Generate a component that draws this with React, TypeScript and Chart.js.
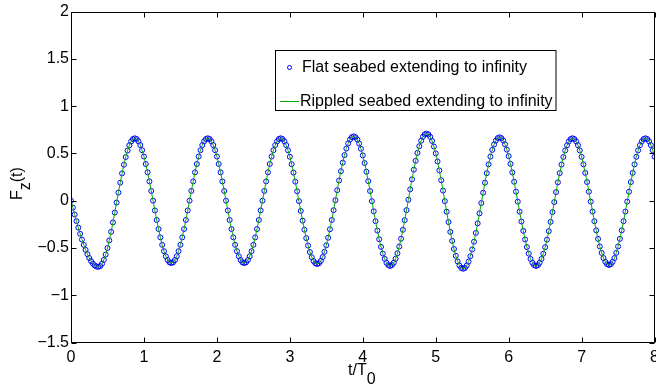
import React, { useEffect, useRef } from "react";
import { Chart, registerables } from "chart.js";

Chart.register(...registerables);

// ---- data ----
const TIME_STEP = 0.025; // t/T0 sampling interval of the markers
const X_TICKS = [0, 1, 2, 3, 4, 5, 6, 7, 8];
const Y_TICKS = [-1.5, -1, -0.5, 0, 0.5, 1, 1.5, 2];
const SERIES_LABELS = [
  "Flat seabed extending to infinity",
  "Rippled seabed extending to infinity",
];

// F_z(t) for the flat seabed, one value per TIME_STEP starting at t = 0
const flatSeabed: number[] = [
  0, -0.073, -0.146, -0.216, -0.285, -0.35, -0.411, -0.468, -0.52, -0.566, -0.606, -0.639, -0.666, -0.685, -0.696, -0.7,
  -0.692, -0.667, -0.626, -0.57, -0.501, -0.42, -0.329, -0.23, -0.126, -0.02, 0.086, 0.19, 0.289, 0.38, 0.461, 0.53, 0.586, 0.627, 0.652, 0.66,
  0.652, 0.628, 0.588, 0.534, 0.467, 0.388, 0.3, 0.204, 0.103, 0, -0.103, -0.204, -0.3, -0.388, -0.467, -0.534, -0.588, -0.628, -0.652, -0.66,
  -0.652, -0.628, -0.588, -0.534, -0.467, -0.388, -0.3, -0.204, -0.103, 0, 0.103, 0.204, 0.3, 0.388, 0.467, 0.534, 0.588, 0.628, 0.652, 0.66,
  0.652, 0.628, 0.588, 0.534, 0.467, 0.388, 0.3, 0.204, 0.103, 0, -0.103, -0.204, -0.3, -0.388, -0.467, -0.534, -0.588, -0.628, -0.652, -0.66,
  -0.652, -0.628, -0.588, -0.534, -0.467, -0.388, -0.3, -0.204, -0.103, 0, 0.103, 0.204, 0.3, 0.388, 0.467, 0.534, 0.588, 0.628, 0.652, 0.66,
  0.652, 0.628, 0.588, 0.533, 0.465, 0.386, 0.297, 0.201, 0.099, -0.005, -0.109, -0.211, -0.307, -0.396, -0.475, -0.543, -0.598, -0.638, -0.662, -0.67,
  -0.662, -0.637, -0.596, -0.541, -0.472, -0.392, -0.302, -0.204, -0.101, 0.005, 0.111, 0.214, 0.312, 0.402, 0.482, 0.551, 0.606, 0.647, 0.672, 0.68,
  0.672, 0.647, 0.605, 0.549, 0.479, 0.398, 0.306, 0.207, 0.102, -0.005, -0.112, -0.217, -0.316, -0.408, -0.489, -0.559, -0.615, -0.657, -0.682, -0.69,
  -0.681, -0.656, -0.614, -0.556, -0.485, -0.402, -0.308, -0.206, -0.1, 0.01, 0.12, 0.226, 0.328, 0.422, 0.505, 0.576, 0.634, 0.676, 0.701, 0.71,
  0.701, 0.675, 0.632, 0.573, 0.501, 0.415, 0.32, 0.216, 0.107, -0.005, -0.117, -0.226, -0.33, -0.425, -0.511, -0.583, -0.642, -0.685, -0.711, -0.72,
  -0.712, -0.686, -0.644, -0.587, -0.516, -0.434, -0.341, -0.24, -0.134, -0.025, 0.084, 0.19, 0.291, 0.384, 0.466, 0.537, 0.594, 0.636, 0.662, 0.67,
  0.662, 0.637, 0.596, 0.54, 0.471, 0.39, 0.299, 0.2, 0.096, -0.01, -0.116, -0.22, -0.319, -0.41, -0.491, -0.56, -0.616, -0.657, -0.682, -0.69,
  -0.682, -0.657, -0.616, -0.561, -0.492, -0.412, -0.322, -0.224, -0.121, -0.015, 0.091, 0.194, 0.292, 0.382, 0.462, 0.531, 0.586, 0.627, 0.652, 0.66,
  0.652, 0.627, 0.587, 0.532, 0.464, 0.384, 0.294, 0.197, 0.095, -0.01, -0.115, -0.217, -0.314, -0.404, -0.484, -0.552, -0.607, -0.647, -0.672, -0.68,
  -0.672, -0.647, -0.607, -0.552, -0.484, -0.404, -0.314, -0.217, -0.115, -0.01, 0.095, 0.197, 0.294, 0.384, 0.464, 0.532, 0.587, 0.627, 0.652, 0.66,
  0.652, 0.628, 0.588, 0.533, 0.465,
];

// The rippled-seabed curve coincides with the flat-seabed markers in the picture
const rippledSeabed: number[] = flatSeabed;

const FONT = "'Liberation Sans', Arial, Helvetica, sans-serif";
const FONT_SIZE = 16;
const BLUE = "rgb(0,0,255)";
const GREEN = "rgb(0,170,0)";

const fmt = (v: number) => (v < 0 ? "\u2212" + String(Math.abs(v)) : String(v));

const toPoints = (vals: number[]) => vals.map((y, i) => ({ x: i * TIME_STEP, y }));

const matlabPlugin = {
  id: "matlabFrame",
  afterDraw(chart: any) {
    const { ctx, chartArea } = chart;
    const xs = chart.scales.x;
    const ys = chart.scales.y;
    const L = Math.round(chartArea.left) + 0.5;
    const R = Math.round(chartArea.right) - 0.5;
    const T = Math.round(chartArea.top) + 0.5;
    const B = Math.round(chartArea.bottom) - 0.5;
    const tick = 5;
    ctx.save();
    ctx.strokeStyle = "#000";
    ctx.lineWidth = 1;
    ctx.beginPath();
    ctx.moveTo(L, T);
    ctx.lineTo(R, T);
    ctx.lineTo(R, B);
    ctx.lineTo(L, B);
    ctx.closePath();
    for (const v of X_TICKS) {
      const px = Math.round(xs.getPixelForValue(v)) + 0.5;
      ctx.moveTo(px, B);
      ctx.lineTo(px, B - tick);
      ctx.moveTo(px, T);
      ctx.lineTo(px, T + tick);
    }
    for (const v of Y_TICKS) {
      const py = Math.round(ys.getPixelForValue(v)) + 0.5;
      ctx.moveTo(L, py);
      ctx.lineTo(L + tick, py);
      ctx.moveTo(R, py);
      ctx.lineTo(R - tick, py);
    }
    ctx.stroke();

    // axis titles
    ctx.fillStyle = "#000";
    ctx.textBaseline = "alphabetic";
    ctx.textAlign = "left";
    ctx.font = `${FONT_SIZE}px ${FONT}`;
    const xt = "t/T";
    const xw = ctx.measureText(xt).width;
    const sub = "0";
    const sw = ctx.measureText(sub).width;
    const cx = (chartArea.left + chartArea.right) / 2 - 1;
    const x0 = cx - (xw + sw) / 2;
    ctx.fillText(xt, x0, 375);
    ctx.fillText(sub, x0 + xw, 384);

    ctx.save();
    ctx.translate(22, 200);
    ctx.rotate(-Math.PI / 2);
    ctx.fillText("F", 0, 0);
    const fw = ctx.measureText("F").width;
    ctx.fillText("z", fw, 8);
    const zw = ctx.measureText("z").width;
    ctx.fillText("(t)", fw + zw, 0);
    ctx.restore();

    // legend
    const bx = 275.5, by = 50.5, bw = 280.5, bh = 60;
    ctx.fillStyle = "#fff";
    ctx.fillRect(bx, by, bw, bh);
    ctx.strokeStyle = "#000";
    ctx.strokeRect(bx, by, bw, bh);
    ctx.fillStyle = "#000";
    ctx.textBaseline = "middle";
    const ds = chart.data.datasets;
    const flat = ds.find((d: any) => d.label === SERIES_LABELS[0]);
    const rip = ds.find((d: any) => d.label === SERIES_LABELS[1]);
    // row 1: marker
    ctx.strokeStyle = flat.pointBorderColor;
    ctx.lineWidth = 1;
    ctx.beginPath();
    ctx.arc(289.5, 67.5, 2, 0, Math.PI * 2);
    ctx.stroke();
    ctx.fillText(flat.label, 302, 68);
    // row 2: line
    ctx.strokeStyle = rip.borderColor;
    ctx.beginPath();
    ctx.moveTo(280, 101.5);
    ctx.lineTo(299, 101.5);
    ctx.stroke();
    ctx.fillText(rip.label, 300, 102);
    ctx.restore();
  },
};

export default function App() {
  const ref = useRef<HTMLCanvasElement>(null);
  useEffect(() => {
    document.body.style.margin = "0";
    Chart.defaults.font.family = FONT;
    Chart.defaults.font.size = FONT_SIZE;
    Chart.defaults.color = "#000";
    const chart = new Chart(ref.current as HTMLCanvasElement, {
      type: "line",
      data: {
        datasets: [
          {
            label: SERIES_LABELS[1],
            data: toPoints(rippledSeabed),
            borderColor: GREEN,
            borderWidth: 1,
            pointRadius: 0,
            fill: false,
            tension: 0,
          },
          {
            label: SERIES_LABELS[0],
            data: toPoints(flatSeabed),
            showLine: false,
            pointRadius: 2.5,
            pointBorderWidth: 1,
            pointBorderColor: BLUE,
            pointBackgroundColor: "rgba(0,0,0,0)",
            borderColor: BLUE,
          },
        ],
      },
      options: {
        responsive: false,
        animation: false,
        events: [],
        layout: { padding: { left: 0, top: 11, right: 6.5, bottom: 0 } },
        plugins: { legend: { display: false }, tooltip: { enabled: false } },
        scales: {
          x: {
            type: "linear",
            min: 0,
            max: 8,
            afterBuildTicks: (s: any) => {
              s.ticks = X_TICKS.map((v) => ({ value: v }));
            },
            afterFit: (s: any) => {
              s.height = 44.5;
            },
            grid: { display: false, drawTicks: false },
            border: { display: false },
            ticks: { padding: 5, maxRotation: 0, autoSkip: false, callback: (v: any) => fmt(Number(v)) },
          },
          y: {
            type: "linear",
            min: -1.5,
            max: 2,
            afterBuildTicks: (s: any) => {
              s.ticks = Y_TICKS.map((v) => ({ value: v }));
            },
            afterFit: (s: any) => {
              s.width = 71;
            },
            grid: { display: false, drawTicks: false },
            border: { display: false },
            ticks: { padding: 2, autoSkip: false, callback: (v: any) => fmt(Number(v)) },
          },
        },
      },
      plugins: [matlabPlugin],
    });
    return () => chart.destroy();
  }, []);
  return (
    <div style={{ width: 656, height: 387, overflow: "hidden", position: "relative", background: "#fff" }}>
      <canvas ref={ref} width={664} height={387} style={{ display: "block" }} />
    </div>
  );
}
